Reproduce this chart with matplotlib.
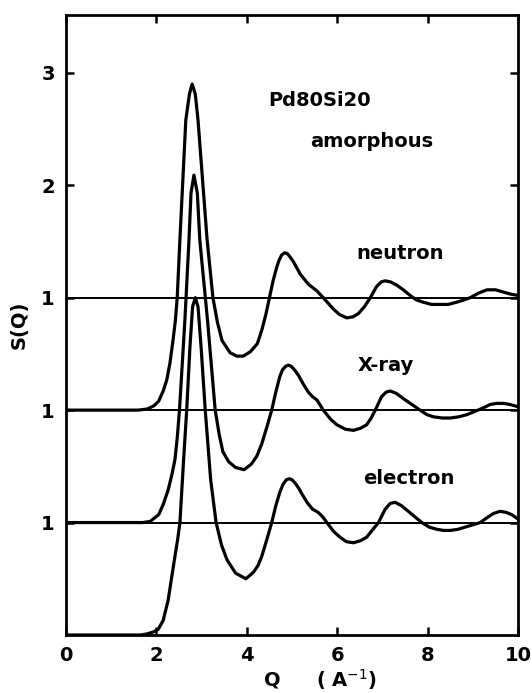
import matplotlib.pyplot as plt

# S(Q) von amorphem Pd80Si20
q_neutron = [0.0, 1.0, 1.6, 1.8, 1.95, 2.05, 2.15, 2.23, 2.30, 2.37, 2.42, 2.46, 2.52, 2.65, 2.73, 2.79,
             2.86, 2.92, 3.02, 3.12, 3.25, 3.35, 3.45, 3.63, 3.78, 3.92, 4.08, 4.23, 4.33, 4.42, 4.50,
             4.58, 4.66, 4.71, 4.77, 4.84, 4.90, 4.96, 5.03, 5.18, 5.36, 5.55, 5.69, 5.91, 6.05, 6.21,
             6.35, 6.47, 6.60, 6.73, 6.87, 6.97, 7.06, 7.18, 7.32, 7.46, 7.61, 7.75, 7.90, 8.08, 8.27,
             8.45, 8.64, 8.80, 8.94, 9.12, 9.31, 9.50, 9.67, 9.85, 10.0]
s_neutron = [0.0, 0.0, 0.0, 0.01, 0.04, 0.08, 0.17, 0.27, 0.42, 0.63, 0.80, 1.00, 1.52, 2.58, 2.81, 2.90,
             2.81, 2.58, 2.05, 1.52, 1.00, 0.78, 0.62, 0.51, 0.48, 0.48, 0.52, 0.59, 0.71, 0.85, 1.00,
             1.15, 1.27, 1.33, 1.38, 1.40, 1.39, 1.36, 1.32, 1.21, 1.12, 1.06, 1.00, 0.90, 0.85, 0.82,
             0.83, 0.86, 0.92, 1.00, 1.10, 1.14, 1.15, 1.14, 1.11, 1.07, 1.02, 0.98, 0.96, 0.94, 0.94,
             0.94, 0.96, 0.98, 1.00, 1.04, 1.07, 1.07, 1.05, 1.03, 1.02]

q_xray = [0.0, 1.0, 1.7, 1.86, 2.05, 2.15, 2.26, 2.35, 2.41, 2.46, 2.51, 2.63, 2.72, 2.765, 2.83,
          2.905, 2.96, 3.13, 3.30, 3.39, 3.47, 3.60, 3.75, 3.94, 4.10, 4.22, 4.33, 4.45, 4.55, 4.64,
          4.73, 4.79, 4.86, 4.92, 4.98, 5.05, 5.14, 5.25, 5.36, 5.45, 5.55, 5.69, 5.85, 5.99, 6.18,
          6.36, 6.52, 6.65, 6.75, 6.84, 6.98, 7.08, 7.17, 7.30, 7.47, 7.65, 7.83, 7.98, 8.13, 8.32,
          8.50, 8.68, 8.87, 9.05, 9.23, 9.38, 9.53, 9.68, 9.82, 10.0]
s_xray = [0.0, 0.0, 0.0, 0.01, 0.07, 0.16, 0.29, 0.44, 0.56, 0.75, 1.00, 1.80, 2.51, 2.93, 3.09,
          2.93, 2.51, 1.80, 1.00, 0.78, 0.63, 0.54, 0.49, 0.47, 0.52, 0.59, 0.70, 0.86, 1.00, 1.16,
          1.30, 1.36, 1.39, 1.40, 1.39, 1.36, 1.31, 1.23, 1.16, 1.12, 1.09, 1.00, 0.92, 0.87, 0.83,
          0.82, 0.84, 0.87, 0.93, 1.00, 1.12, 1.16, 1.17, 1.15, 1.10, 1.05, 1.00, 0.96, 0.94, 0.93,
          0.93, 0.94, 0.96, 0.99, 1.02, 1.05, 1.06, 1.06, 1.05, 1.03]

q_electron = [0.0, 1.0, 1.65, 1.8, 1.95, 2.04, 2.15, 2.26, 2.34, 2.41, 2.47, 2.52, 2.60, 2.67, 2.74,
              2.80, 2.86, 2.92, 2.99, 3.08, 3.20, 3.32, 3.44, 3.56, 3.75, 3.98, 4.15, 4.25, 4.33,
              4.45, 4.55, 4.64, 4.73, 4.80, 4.87, 4.94, 5.00, 5.07, 5.14, 5.24, 5.33, 5.45, 5.58,
              5.68, 5.77, 5.92, 6.06, 6.20, 6.36, 6.52, 6.65, 6.79, 6.91, 7.06, 7.17, 7.28, 7.42,
              7.57, 7.72, 7.87, 8.03, 8.20, 8.35, 8.50, 8.67, 8.83, 9.00, 9.16, 9.30, 9.45, 9.60,
              9.74, 9.86, 10.0]
s_electron = [0.0, 0.0, 0.0, 0.01, 0.03, 0.05, 0.13, 0.31, 0.52, 0.70, 0.85, 1.00, 1.55, 2.00, 2.55,
              2.92, 3.00, 2.92, 2.55, 2.00, 1.38, 1.00, 0.80, 0.67, 0.55, 0.50, 0.56, 0.62, 0.70,
              0.86, 1.00, 1.15, 1.27, 1.34, 1.38, 1.39, 1.38, 1.35, 1.31, 1.24, 1.18, 1.12, 1.09,
              1.05, 1.00, 0.92, 0.87, 0.83, 0.82, 0.84, 0.87, 0.94, 1.00, 1.12, 1.17, 1.18, 1.15,
              1.10, 1.05, 1.00, 0.96, 0.94, 0.93, 0.93, 0.94, 0.96, 0.98, 1.00, 1.04, 1.08, 1.10,
              1.09, 1.07, 1.03]

# Kurven sind jeweils um 1 nach oben verschoben
offsets = {"neutron": 2, "X-ray": 1, "electron": 0}
y_ticks = [1, 2, 3, 4, 5]
y_labels = ["1", "1", "1", "2", "3"]
x_ticks = [0, 2, 4, 6, 8, 10]

fig = plt.figure(figsize=(5.32, 6.93), dpi=100)
ax = fig.add_axes([0.124, 0.0837, 0.850, 0.894])

curves = [("neutron", q_neutron, s_neutron),
          ("X-ray", q_xray, s_xray),
          ("electron", q_electron, s_electron)]
for name, q, s in curves:
    off = offsets[name]
    ax.axhline(1 + off, color="black", lw=1.4)
    ax.plot(q, [v + off for v in s], color="black", lw=2.3, solid_capstyle="round",
            solid_joinstyle="round")

ax.set_xlim(0, 10)
ax.set_ylim(0, 5.51)
ax.set_xticks(x_ticks)
ax.set_xticklabels([str(t) for t in x_ticks], fontweight="bold")
ax.set_yticks(y_ticks)
ax.set_yticklabels(y_labels, fontweight="bold")
ax.tick_params(direction="in", length=6, width=1.8, labelsize=14, top=True, right=True, pad=8)
for sp in ax.spines.values():
    sp.set_linewidth(2)

font = dict(fontsize=14, color="black", fontweight="bold")
ax.text(4.48, 4.75, "Pd80Si20", ha="left", va="center", **font)
ax.text(5.40, 4.39, "amorphous", ha="left", va="center", **font)
ax.text(6.42, 3.39, "neutron", ha="left", va="center", **font)
ax.text(6.46, 2.40, "X-ray", ha="left", va="center", **font)
ax.text(6.57, 1.39, "electron", ha="left", va="center", **font)

ax.text(4.56, -0.40, "Q", ha="center", va="center", clip_on=False, **font)
ax.text(6.20, -0.40, "( A$^{-1}$)", ha="center", va="center", clip_on=False, **font)
ax.text(-1.04, 2.76, "S(Q)", rotation=90, ha="center", va="center", clip_on=False, **font)

fig.savefig("out.png", dpi=100)
